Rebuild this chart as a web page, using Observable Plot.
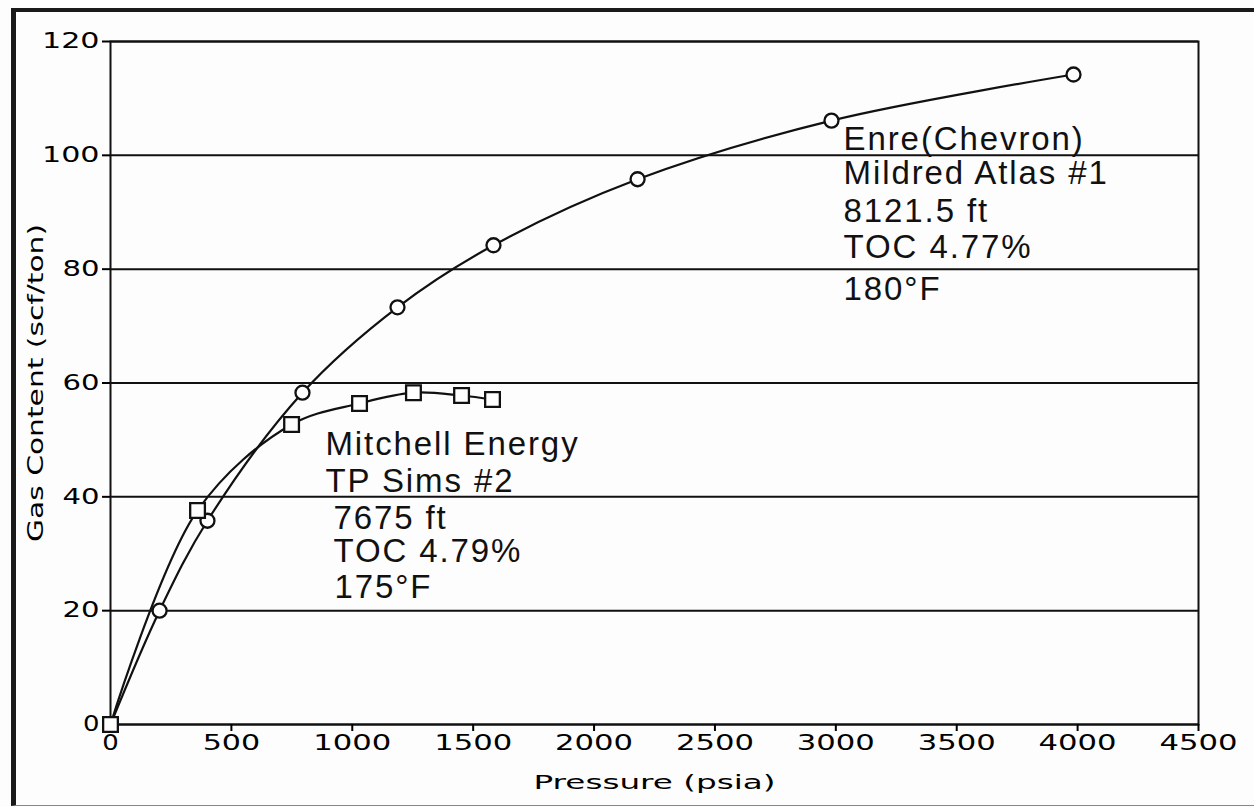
<!DOCTYPE html>
<html>
<head>
<meta charset="utf-8">
<script src="https://cdn.jsdelivr.net/npm/d3@7"></script>
<script src="https://cdn.jsdelivr.net/npm/@observablehq/plot@0.6"></script>
<style>
  html, body { margin: 0; padding: 0; background: #fdfdfd; }
  #wrap { position: relative; width: 1254px; height: 807px; overflow: hidden; }
  #border { position: absolute; left: 11px; top: 8px; right: -10px; bottom: 1px;
            border-top: 4px solid #1a1a1a; border-left: 5px solid #1a1a1a; border-bottom: 1px solid #888;
            pointer-events: none; }
</style>
</head>
<body>
<div id="wrap"><div id="border"></div></div>
<script>
// Tick values
const xTicks = [0, 500, 1000, 1500, 2000, 2500, 3000, 3500, 4000, 4500];
const yTicks = [0, 20, 40, 60, 80, 100, 120];

// Enre (Chevron) Mildred Atlas #1 — circles
const chevronPressure = [0, 203, 401, 794, 1187, 1584, 2180, 2982, 3983];
const chevronGas      = [0, 20.0, 35.8, 58.3, 73.3, 84.2, 95.8, 106.1, 114.2];

// Mitchell Energy TP Sims #2 — squares
const mitchellPressure = [0, 360, 749, 1030, 1253, 1452, 1580];
const mitchellGas      = [0, 37.6, 52.7, 56.4, 58.3, 57.8, 57.1];

// Annotation text blocks
const chevronLines = ["Enre(Chevron)", "Mildred Atlas #1", "8121.5 ft", "TOC 4.77%", "180°F"];
const chevronLineX = [3032, 3032, 3032, 3032, 3032];
const chevronLineY = [101.0, 94.9, 88.2, 81.9, 74.5];

const mitchellLines = ["Mitchell Energy", "TP Sims #2", "7675 ft", "TOC 4.79%", "175°F"];
const mitchellLineX = [889, 889, 922, 922, 926];
const mitchellLineY = [47.3, 40.8, 34.4, 28.5, 22.3];

const chevron = chevronPressure.map((p, i) => ({p, g: chevronGas[i]}));
const mitchell = mitchellPressure.map((p, i) => ({p, g: mitchellGas[i]}));
const notes = [
  ...chevronLines.map((t, i) => ({t, x: chevronLineX[i], y: chevronLineY[i]})),
  ...mitchellLines.map((t, i) => ({t, x: mitchellLineX[i], y: mitchellLineY[i]}))
];

const chart = Plot.plot({
  width: 1254,
  height: 807,
  marginLeft: 110,
  marginRight: 56,
  marginTop: 41,
  marginBottom: 83,
  style: {fontFamily: "DejaVu Sans", background: "transparent", color: "black"},
  x: {domain: [0, 4500]},
  y: {domain: [0, 120]},
  marks: [
    Plot.gridY(yTicks, {stroke: "#111", strokeOpacity: 1, strokeWidth: 2}),
    Plot.frame({stroke: "#111", strokeWidth: 2}),
    Plot.axisX({ticks: xTicks, tickSize: 7, tickPadding: 4, fontSize: 21, strokeWidth: 2,
      tickFormat: d => String(d), label: "Pressure (psia)", labelAnchor: "center", labelArrow: "none", labelOffset: 64}),
    Plot.axisY({ticks: yTicks, tickSize: 8, tickPadding: 3, fontSize: 21, strokeWidth: 2,
      tickFormat: d => String(d), label: "Gas Content (scf/ton)", labelAnchor: "center", labelArrow: "none", labelOffset: 82}),
    Plot.line(chevron, {x: "p", y: "g", curve: "catmull-rom", stroke: "#111", strokeWidth: 2.2}),
    Plot.line(mitchell, {x: "p", y: "g", curve: "catmull-rom", stroke: "#111", strokeWidth: 2.2}),
    Plot.dot(chevron, {x: "p", y: "g", r: 7, fill: "white", stroke: "#111", strokeWidth: 2.3}),
    Plot.dot(mitchell, {x: "p", y: "g", symbol: "square", r: 8.3, fill: "white", stroke: "#111", strokeWidth: 2.3}),
    Plot.text(notes, {x: "x", y: "y", text: "t", textAnchor: "start", lineAnchor: "bottom",
      fontSize: 33, fontFamily: "Liberation Sans", fill: "#111"})
  ]
});

// widen the extended-style axis lettering
d3.select(chart).selectAll('g[aria-label="x-axis tick label"] text, g[aria-label="y-axis tick label"] text')
  .each(function() {
    const n = this.textContent.length;
    this.setAttribute("textLength", n * 20.5 - 4);
    this.setAttribute("lengthAdjust", "spacingAndGlyphs");
  });
d3.select(chart).selectAll('g[aria-label="x-axis label"] text')
  .attr("textLength", 242).attr("lengthAdjust", "spacingAndGlyphs").attr("font-size", 20);
d3.select(chart).selectAll('g[aria-label="y-axis label"] text')
  .attr("textLength", 318).attr("lengthAdjust", "spacingAndGlyphs").attr("font-size", 21);
d3.select(chart).selectAll('g[aria-label="text"] text')
  .attr("letter-spacing", "1.9px");

document.getElementById("wrap").prepend(chart);
</script>
</body>
</html>
